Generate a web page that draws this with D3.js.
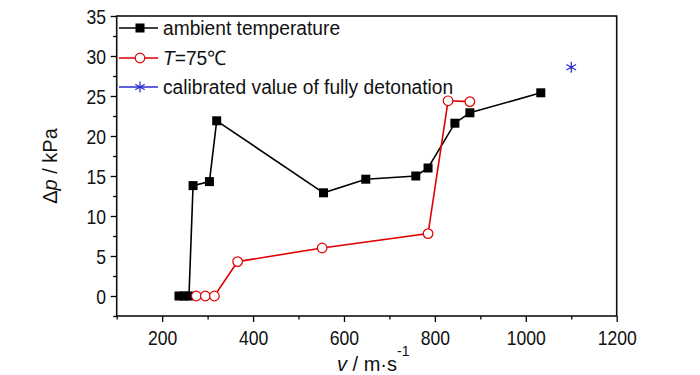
<!DOCTYPE html>
<html>
<head>
<meta charset="utf-8">
<script src="https://cdn.jsdelivr.net/npm/d3@7"></script>
<style>
  html, body { margin: 0; padding: 0; background: #fff; }
  svg { display: block; font-family: "Liberation Sans", Arial, sans-serif; }
</style>
</head>
<body>
<svg id="chart" width="700" height="375"></svg>
<script>
// ---- data ----
const ambientV = [237, 248, 259, 268, 304, 320, 555, 648, 758, 785, 844, 877, 1033];
const ambientP = [0, 0, 0, 13.8, 14.3, 21.9, 12.9, 14.6, 15.0, 16.0, 21.6, 22.9, 25.4];
const hotV = [275, 295, 315, 366, 552, 785, 829, 877];
const hotP = [0, 0, 0, 4.3, 6.0, 7.8, 24.4, 24.3];
const calibV = [1100];
const calibP = [28.6];
const xTicks = [200, 400, 600, 800, 1000, 1200];
const xMinor = [100, 300, 500, 700, 900, 1100];
const yTicks = [0, 5, 10, 15, 20, 25, 30, 35];
const yMinor = [-2.5, 2.5, 7.5, 12.5, 17.5, 22.5, 27.5, 32.5];
const legendLabels = ["ambient temperature", "T=75\u2103", "calibrated value of fully detonation"];

const colBlack = "#000", colRed = "#e00000", colBlue = "#2b2bd0";

const svg = d3.select("#chart");
const L = 116.7, R = 616.7, T = 16, B = 316;
const x = d3.scaleLinear().domain([100, 1200]).range([L, R]);
const y = d3.scaleLinear().domain([-2.5, 35]).range([B, T]);

svg.append("rect").attr("width", 700).attr("height", 375).attr("fill", "#fff");

// axes
const gx = svg.append("g").attr("transform", `translate(0,${B})`)
  .call(d3.axisBottom(x).tickValues(xTicks).tickSize(6).tickSizeOuter(0).tickPadding(9).tickFormat(d3.format("d")));
const gxm = svg.append("g").attr("transform", `translate(0,${B})`)
  .call(d3.axisBottom(x).tickValues(xMinor).tickSize(3.5).tickSizeOuter(0).tickFormat(""));
const gy = svg.append("g").attr("transform", `translate(${L},0)`)
  .call(d3.axisLeft(y).tickValues(yTicks).tickSize(6).tickSizeOuter(0).tickPadding(6).tickFormat(d3.format("d")));
const gym = svg.append("g").attr("transform", `translate(${L},0)`)
  .call(d3.axisLeft(y).tickValues(yMinor).tickSize(3.5).tickSizeOuter(0).tickFormat(""));
[gx, gxm, gy, gym].forEach(g => {
  g.select(".domain").remove();
  g.selectAll("line").attr("stroke", "#000").attr("stroke-width", 1.3);
  g.selectAll("text").attr("font-size", 20).attr("fill", "#111")
    .attr("font-family", '"Liberation Sans", Arial, sans-serif');
});
gx.selectAll("text").attr("transform", "scale(0.88,1)");
gy.selectAll("text").attr("transform", "scale(0.88,1)").attr("dy", "0.36em");

svg.append("rect").attr("x", L).attr("y", T).attr("width", R - L).attr("height", B - T)
  .attr("fill", "none").attr("stroke", "#111").attr("stroke-width", 1.6);

// axis titles
const yt = svg.append("text").attr("transform", `translate(57,166) rotate(-90)`)
  .attr("text-anchor", "middle").attr("font-size", 20).attr("fill", "#111");
yt.append("tspan").text("\u0394");
yt.append("tspan").attr("font-style", "italic").text("p");
yt.append("tspan").text(" / kPa");

const xt = svg.append("text").attr("x", 337).attr("y", 371).attr("font-size", 20).attr("fill", "#111");
xt.append("tspan").attr("font-style", "italic").text("v");
xt.append("tspan").text(" / m\u00b7s");
xt.append("tspan").attr("font-size", 14).attr("dy", -15).text("-1");

// series
const line = d3.line().x(d => x(d[0])).y(d => y(d[1]));
const amb = ambientV.map((v, i) => [v, ambientP[i]]);
const hot = hotV.map((v, i) => [v, hotP[i]]);
const cal = calibV.map((v, i) => [v, calibP[i]]);

svg.append("path").datum(amb).attr("d", line).attr("fill", "none").attr("stroke", colBlack).attr("stroke-width", 1.6);
svg.append("path").datum(hot).attr("d", line).attr("fill", "none").attr("stroke", colRed).attr("stroke-width", 1.6);

const sq = 9;
svg.append("g").selectAll("rect").data(amb).join("rect")
  .attr("x", d => x(d[0]) - sq / 2).attr("y", d => y(d[1]) - sq / 2)
  .attr("width", sq).attr("height", sq).attr("fill", colBlack);
svg.append("g").selectAll("circle").data(hot).join("circle")
  .attr("cx", d => x(d[0])).attr("cy", d => y(d[1])).attr("r", 4.8)
  .attr("fill", "#fff").attr("stroke", colRed).attr("stroke-width", 1.2);

function star(g, cx, cy, s, col) {
  const a = [[0, -s], [0, s]], k = s * 0.87, h = s * 0.5;
  g.append("line").attr("x1", cx).attr("y1", cy - s).attr("x2", cx).attr("y2", cy + s);
  g.append("line").attr("x1", cx - k).attr("y1", cy - h).attr("x2", cx + k).attr("y2", cy + h);
  g.append("line").attr("x1", cx - k).attr("y1", cy + h).attr("x2", cx + k).attr("y2", cy - h);
  g.selectAll("line").attr("stroke", col).attr("stroke-width", 1.2);
  g.append("circle").attr("cx", cx).attr("cy", cy).attr("r", 1.3).attr("fill", col);
}
cal.forEach(d => star(svg.append("g"), x(d[0]), y(d[1]), 5.5, colBlue));

// legend
const legY = [28, 58, 87];
const legCols = [colBlack, colRed, colBlue];
legendLabels.forEach((lab, i) => {
  const g = svg.append("g");
  g.append("line").attr("x1", 119).attr("x2", 158).attr("y1", legY[i]).attr("y2", legY[i])
    .attr("stroke", legCols[i]).attr("stroke-width", 1.6);
  if (i === 0) g.append("rect").attr("x", 140 - sq / 2).attr("y", legY[i] - sq / 2).attr("width", sq).attr("height", sq).attr("fill", colBlack);
  if (i === 1) g.append("circle").attr("cx", 140).attr("cy", legY[i]).attr("r", 4.8).attr("fill", "#fff").attr("stroke", colRed).attr("stroke-width", 1.2);
  if (i === 2) star(g.append("g"), 140, legY[i], 5.5, colBlue);
  const t = g.append("text").attr("transform", `translate(163,${legY[i] + 7}) scale(0.96,1)`)
    .attr("font-size", 20).attr("fill", "#111");
  if (i === 1) {
    t.append("tspan").attr("font-style", "italic").text("T");
    t.append("tspan").text("=75\u2103");
  } else {
    t.text(lab);
  }
});
</script>
</body>
</html>
